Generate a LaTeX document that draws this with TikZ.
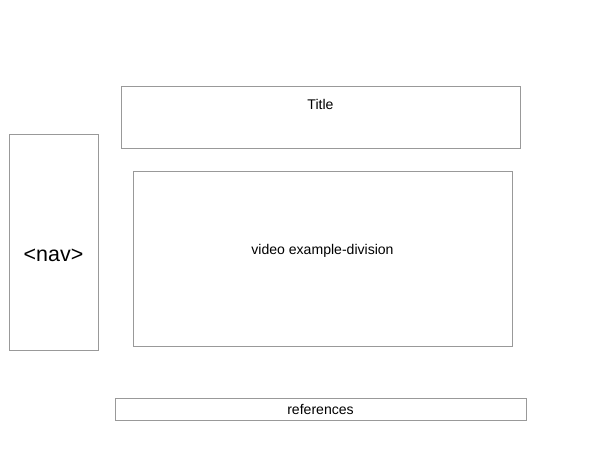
\documentclass[tikz,border=0pt]{standalone}
\usepackage{fontspec}
\setmainfont{Liberation Sans}

\begin{document}
\begin{tikzpicture}[x=0.02cm,y=-0.02cm,
  box/.style={draw=black!40,line width=0.55pt,rectangle,inner sep=0pt},
  lbl/.style={font=\fontsize{8}{10}\selectfont,inner sep=0pt}]
\useasboundingbox (0,0) rectangle (600,450);
\def\px{0.02cm}
\node[box,minimum width=399*\px,minimum height=62*\px] (title) at (320.5,117) {};
\node[lbl] (titletext) at (320.5,104) {Title};
\node[box,minimum width=89*\px,minimum height=216*\px] (nav) at (53.5,242) {};
\node[font=\fontsize{12.2}{14}\selectfont,inner sep=0pt] (navtext) at (53.5,255) {<nav>};
\node[box,minimum width=379*\px,minimum height=175*\px] (video) at (322.5,258.5) {};
\node[lbl] (videotext) at (322.5,251) {video example-division};
\node[box,lbl,minimum width=411*\px,minimum height=22*\px] (refs) at (320.5,409) {references};
\end{tikzpicture}
\end{document}
